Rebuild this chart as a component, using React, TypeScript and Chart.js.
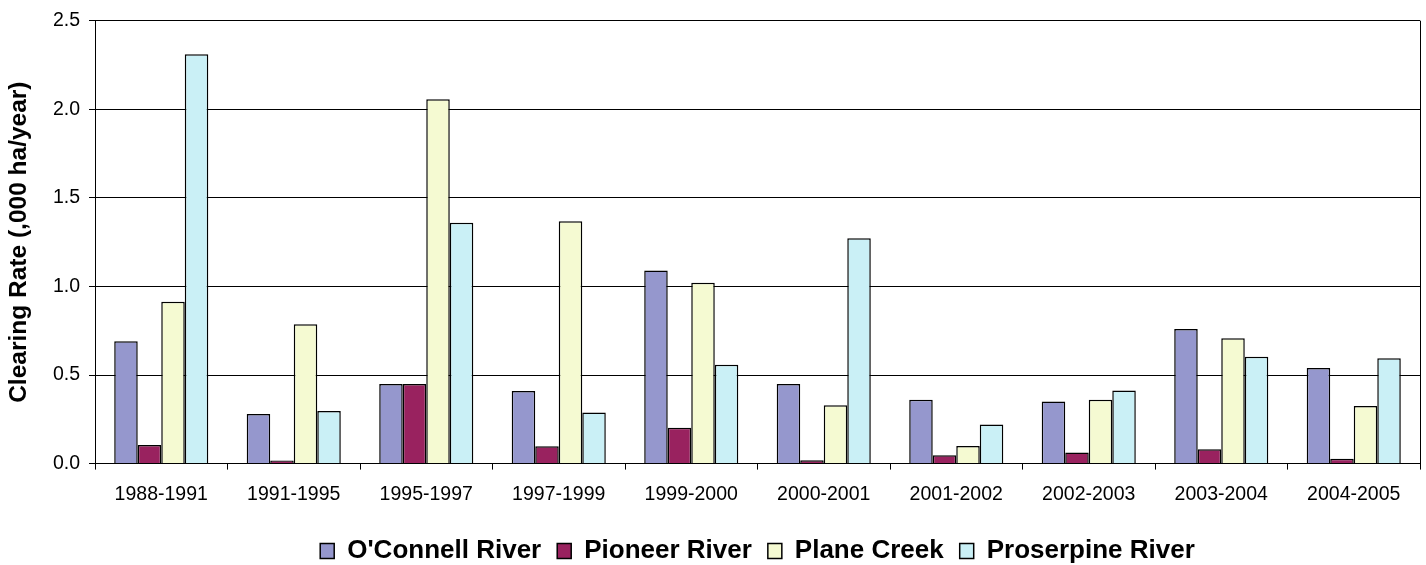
import React, { useEffect, useRef } from "react";
import { Chart, registerables } from "chart.js";

Chart.register(...registerables);

const categories = [
  "1988-1991", "1991-1995", "1995-1997", "1997-1999", "1999-2000",
  "2000-2001", "2001-2002", "2002-2003", "2003-2004", "2004-2005",
];
const oconnell = [0.69, 0.28, 0.45, 0.41, 1.09, 0.45, 0.36, 0.35, 0.76, 0.54];
const pioneer = [0.105, 0.017, 0.45, 0.098, 0.203, 0.019, 0.047, 0.062, 0.081, 0.028];
const plane = [0.914, 0.786, 2.056, 1.368, 1.021, 0.33, 0.099, 0.361, 0.707, 0.325];
const proserpine = [2.31, 0.297, 1.359, 0.288, 0.558, 1.272, 0.22, 0.413, 0.603, 0.594];
const seriesNames = ["O'Connell River", "Pioneer River", "Plane Creek", "Proserpine River"];
const seriesColors = ["#9597CD", "#99225F", "#F5FAD2", "#CAF0F6"];

const frame = {
  id: "frame",
  afterLayout(chart: any) {
    // centre the legend under the plot area, as in the original
    const lg = chart.legend;
    if (lg) {
      const ca = chart.chartArea;
      const dx = (ca.left + ca.right) / 2 - (lg.left + lg.right) / 2;
      lg.left += dx;
      lg.right += dx;
      lg.top += 3;
      lg.bottom += 3;
    }
  },
  afterDatasetsDraw(chart: any) {
    const { ctx, chartArea } = chart;
    ctx.save();
    ctx.strokeStyle = "#000";
    ctx.lineWidth = 1;
    ctx.beginPath();
    ctx.moveTo(Math.round(chartArea.right) + 0.5, chartArea.top);
    ctx.lineTo(Math.round(chartArea.right) + 0.5, chartArea.bottom);
    ctx.stroke();
    ctx.restore();
  },
};

const FONT = "Liberation Sans, Arial, sans-serif";

export default function App() {
  const ref = useRef<HTMLCanvasElement>(null);
  useEffect(() => {
    document.body.style.margin = "0";
    const values = [oconnell, pioneer, plane, proserpine];
    const chart = new Chart(ref.current!, {
      type: "bar",
      data: {
        labels: categories,
        datasets: values.map((v, i) => ({
          label: seriesNames[i],
          data: v,
          backgroundColor: seriesColors[i],
          borderColor: "#000",
          borderWidth: 1.5,
          categoryPercentage: 0.71,
          barPercentage: 1,
        })),
      },
      options: {
        animation: false,
        responsive: false,
        layout: { padding: { top: 15, right: 6, left: 0, bottom: -6 } },
        plugins: {
          tooltip: { enabled: false },
          legend: {
            position: "bottom",
            labels: {
              color: "#000",
              font: { family: FONT, size: 26, weight: "bold" },
              boxWidth: 14,
              boxHeight: 15,
              padding: 16,
            },
          },
        },
        scales: {
          x: {
            offset: true,
            grid: {
              offset: true,
              drawOnChartArea: false,
              color: "#000",
              tickLength: 6,
            },
            border: { color: "#000", width: 1 },
            ticks: {
              color: "#000",
              padding: 13,
              font: { family: FONT, size: 19.5 },
              maxRotation: 0,
            },
          },
          y: {
            min: 0,
            max: 2.5,
            afterFit(scale: any) {
              scale.width = 95;
            },
            grid: { color: "#000", tickLength: 6 },
            border: { color: "#000", width: 1 },
            ticks: {
              stepSize: 0.5,
              color: "#000",
              padding: 9,
              font: { family: FONT, size: 19.5 },
              callback: (v: any) => Number(v).toFixed(1),
            },
            title: {
              display: true,
              text: "Clearing Rate (,000 ha/year)",
              color: "#000",
              font: { family: FONT, size: 24.5, weight: "bold" },
              padding: { top: 5, bottom: 4 },
            },
          },
        },
      },
      plugins: [frame],
    });
    return () => chart.destroy();
  }, []);
  return (
    <div style={{ width: 1426, height: 565, background: "#fff" }}>
      <canvas ref={ref} width={1426} height={565} style={{ display: "block" }} />
    </div>
  );
}
